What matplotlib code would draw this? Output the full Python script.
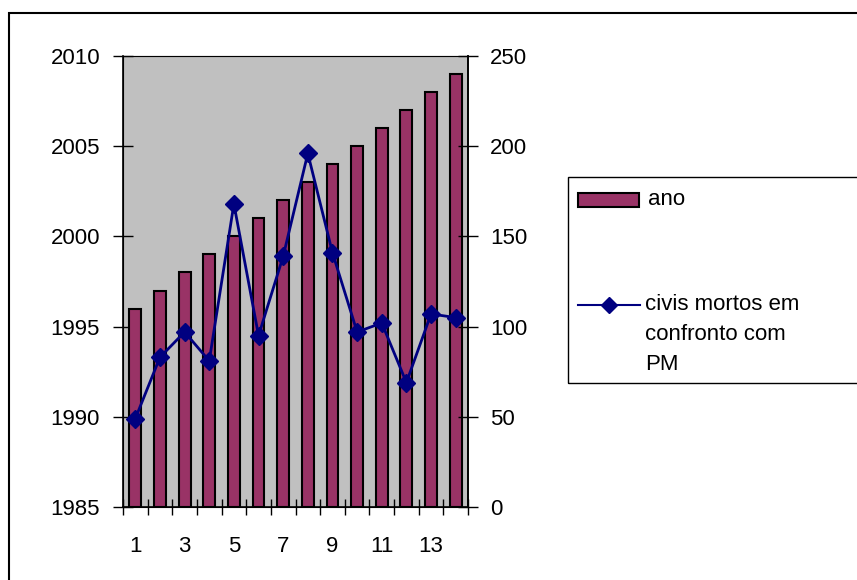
import matplotlib
matplotlib.use('Agg')
from matplotlib import pyplot as plt
from matplotlib.patches import Rectangle
from matplotlib.lines import Line2D

plt.rcParams['font.family'] = ['Liberation Sans', 'DejaVu Sans']

# dados
categorias = list(range(1, 15))
ano = [1996, 1997, 1998, 1999, 2000, 2001, 2002, 2003, 2004, 2005, 2006, 2007, 2008, 2009]
civis_mortos = [49, 83, 97, 81, 168, 95, 139, 196, 141, 97, 102, 69, 107, 105]
rotulos_x = ['1', '3', '5', '7', '9', '11', '13']

fontsize = 16
W, H = 857, 580

fig = plt.figure(figsize=(W / 100, H / 100), dpi=100)


def px(x, y):
    # pixel (topo-esquerda) -> coordenadas da figura
    return x / W, 1 - y / H


# moldura externa
fig.patches.append(Rectangle(px(9, 600), (905 - 9) / W, (600 - 13) / H,
                             transform=fig.transFigure, fill=False,
                             edgecolor='black', linewidth=1.5, zorder=0))

l, b = px(123, 507)
r, t = px(468, 56)
ax = fig.add_axes([l, b, r - l, t - b])
ax.set_facecolor('#C0C0C0')

base = 1985
ax.bar(categorias, [a - base for a in ano], bottom=base, width=0.48,
       color='#993366', edgecolor='black', linewidth=1.5, zorder=2)
ax.set_ylim(1985, 2010)
ax.set_yticks(range(1985, 2011, 5))
ax.set_xlim(0.5, 14.5)
ax.set_xticks([int(v) for v in rotulos_x])
ax.set_xticklabels(rotulos_x)
ax.set_xticks([v + 0.5 for v in range(0, 15)], minor=True)
ax.tick_params(axis='x', which='major', length=0, pad=21, labelsize=fontsize)
ax.tick_params(axis='x', which='minor', direction='inout', length=12, width=1)
ax.tick_params(axis='y', direction='inout', length=14, width=1, pad=9.5,
               labelsize=fontsize)
ax.spines['top'].set_color('#808080')
for s in ['left', 'bottom', 'right']:
    ax.spines[s].set_linewidth(1.2)

ax2 = ax.twinx()
ax2.plot(categorias, civis_mortos, color='#000080', linewidth=2,
         marker='D', markersize=9, zorder=3)
ax2.set_ylim(0, 250)
ax2.set_yticks(range(0, 251, 50))
ax2.tick_params(axis='y', direction='inout', length=14, width=1, pad=9,
                labelsize=fontsize)
ax2.spines['right'].set_linewidth(1.2)

# legenda
lx, ly = px(568, 383)
fig.patches.append(Rectangle((lx, ly), (900 - 568) / W, (383 - 177) / H,
                             transform=fig.transFigure, fill=False,
                             edgecolor='black', linewidth=1))
px0, py0 = px(578, 207)
fig.patches.append(Rectangle((px0, py0), (639 - 578) / W, 14 / H,
                             transform=fig.transFigure, facecolor='#993366',
                             edgecolor='black', linewidth=1.5))
fig.text(*px(648, 199), 'ano', fontsize=fontsize, va='center', ha='left')
yl = px(0, 305)[1]
fig.lines.append(Line2D([578 / W, 640 / W], [yl, yl], transform=fig.transFigure,
                        color='#000080', linewidth=1.5))
fig.lines.append(Line2D([609 / W], [yl], transform=fig.transFigure,
                        color='#000080', marker='D', markersize=8))
fig.text(*px(645, 305), 'civis mortos em', fontsize=fontsize, va='center', ha='left')
fig.text(*px(645, 335), 'confronto com', fontsize=fontsize, va='center', ha='left')
fig.text(*px(645, 364), 'PM', fontsize=fontsize, va='center', ha='left')

plt.savefig('out.png', dpi=100)
